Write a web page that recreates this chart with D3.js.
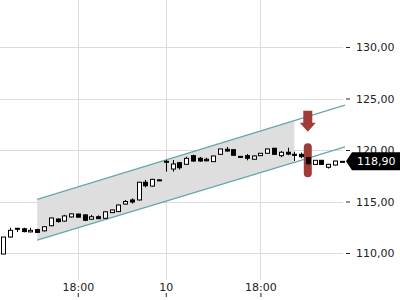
<!DOCTYPE html>
<html>
<head>
    <meta charset="utf-8">
    <title>Candles</title>
    <script src="https://d3js.org/d3.v7.min.js"></script>
    <style type="text/css">
        body { margin: 0; background: #fff; }
        text { font-family: "DejaVu Sans", sans-serif; font-size: 11px; fill: #222; }
    </style>
</head>
<body>
<script type="text/javascript">
// candle values, one entry per candle
const opens  = [109.9, 111.55, 112.4, 112.35, 112.05, 112.27, 112.15, 112.65, 113.3, 113.1,
                113.5, 113.78, 113.7, 113.28, 113.52, 113.37, 113.92, 114.02, 114.75, 115.15,
                115.15, 116.87, 116.5, 117.1, 118.85, 118.15, 118.77, 118.61, 119.45, 119.2,
                119.1, 118.87, 119.58, 120.07, 120.03, 119.38, 119.45, 119.1, 119.45, 119.68,
                120.17, 119.45, 119.78, 119.58, 119.58, 119.25, 118.6, 119.0, 118.32, 118.54, 118.9];
const highs  = [111.55, 112.45, 112.42, 112.45, 112.45, 112.35, 112.6, 113.45, 113.35, 113.7,
                113.85, 113.82, 113.75, 113.7, 113.65, 114.05, 114.2, 114.7, 115.15, 115.3,
                116.9, 117.1, 117.2, 117.12, 119.03, 119.03, 118.85, 119.35, 119.55, 119.32,
                119.25, 119.45, 120.12, 120.3, 120.05, 119.4, 119.6, 119.5, 119.7, 120.12,
                120.2, 119.9, 120.22, 119.83, 119.75, 119.3, 119.02, 119.02, 118.65, 118.95, 118.92];
const lows   = [109.9, 111.5, 112.05, 112.0, 112.0, 111.95, 112.1, 112.6, 112.95, 113.05,
                113.45, 113.45, 113.1, 113.25, 113.3, 113.3, 113.9, 114.0, 114.7, 114.8,
                115.1, 116.38, 116.45, 117.05, 117.9, 117.9, 118.1, 118.55, 118.85, 118.87,
                118.9, 118.85, 119.55, 119.84, 119.45, 119.25, 119.0, 119.08, 119.43, 119.65,
                119.55, 119.3, 119.5, 118.93, 119.2, 118.6, 118.58, 118.58, 118.2, 118.5, 118.88];
const closes = [111.55, 112.2, 112.36, 112.08, 112.2, 112.0, 112.55, 113.4, 113.05, 113.6,
                113.8, 113.48, 113.18, 113.52, 113.33, 114.0, 114.18, 114.66, 115.0, 114.95,
                116.87, 116.53, 117.15, 117.08, 118.9, 118.64, 118.28, 119.19, 118.93, 118.93,
                118.95, 119.42, 120.1, 119.9, 119.49, 119.29, 119.2, 119.42, 119.68, 120.1,
                119.58, 119.78, 119.6, 119.52, 119.35, 118.67, 119.0, 118.6, 118.61, 118.93, 118.9];

// time axis
const tickIdx    = [11, 24, 38];
const tickLabels = ["18:00", "10", "18:00"];

// price axis
const priceTicks = [110, 115, 120, 125, 130];
const lastPrice  = 118.90;

// trend channel (candle index, upper, lower)
const channelIdx   = [5, 43, 50.5];
const channelUpper = [115.2, 122.85, 124.35];
const channelLower = [111.25, 118.8, 120.3];

// signal marker on one candle
const signalIdx   = 45;
const arrowTop    = 123.8;
const arrowBottom = 121.78;
const pillTop     = 120.65;
const pillBottom  = 117.35;

const width = 400, height = 300, plotRight = 345;

const svg = d3.select("body").append("svg")
    .attr("width", width)
    .attr("height", height);

const x = d3.scaleLinear()
    .domain([-0.5, opens.length - 0.5])
    .range([0, plotRight]);
const y = d3.scaleLinear()
    .domain([110, 130])
    .range([253, 47]);

// grid
svg.append("g").selectAll("line")
    .data(priceTicks).join("line")
    .attr("x1", 0).attr("x2", plotRight - 2)
    .attr("y1", d => Math.round(y(d)) + 0.5).attr("y2", d => Math.round(y(d)) + 0.5)
    .style("stroke", "#dcdcdc");
svg.append("g").selectAll("line")
    .data(tickIdx).join("line")
    .attr("x1", d => Math.round(x(d)) + 0.5).attr("x2", d => Math.round(x(d)) + 0.5)
    .attr("y1", 0).attr("y2", 280)
    .style("stroke", "#dcdcdc");

// channel
const pts = (vals, n) => channelIdx.slice(0, n).map((c, k) => [x(c), y(vals[k])]);
const fillPts = pts(channelUpper, 2).concat(pts(channelLower, 2).reverse());
svg.append("path")
    .attr("d", d3.line()(fillPts) + "Z")
    .style("fill", "#dcdcdc")
    .style("fill-opacity", 0.95);
[channelUpper, channelLower].forEach(vals => {
    svg.append("path")
        .attr("d", d3.line()(pts(vals, 3)))
        .style("fill", "none")
        .style("stroke", "#67a6ad")
        .style("stroke-width", 1.2);
});

// signal marker
const sx = x(signalIdx);
const red = "#a03c37";
svg.append("path")
    .attr("d", d3.line()([
        [sx - 4.5, y(arrowTop)], [sx + 4.5, y(arrowTop)], [sx + 4.5, y(arrowBottom) - 9],
        [sx + 8, y(arrowBottom) - 9], [sx, y(arrowBottom)], [sx - 8, y(arrowBottom) - 9],
        [sx - 4.5, y(arrowBottom) - 9]]) + "Z")
    .style("fill", red);
svg.append("rect")
    .attr("x", sx - 4).attr("width", 8)
    .attr("y", y(pillTop)).attr("height", y(pillBottom) - y(pillTop))
    .attr("rx", 4)
    .style("fill", red);

// candles
const candles = svg.append("g").selectAll("g")
    .data(d3.range(opens.length)).join("g");
candles.append("line")
    .attr("x1", i => Math.round(x(i)) + 0.5).attr("x2", i => Math.round(x(i)) + 0.5)
    .attr("y1", i => y(highs[i])).attr("y2", i => y(lows[i]))
    .style("stroke", "#000");
candles.append("rect")
    .attr("x", i => Math.round(x(i)) - 1.5)
    .attr("width", 4)
    .attr("y", i => y(Math.max(opens[i], closes[i])))
    .attr("height", i => Math.max(1, Math.abs(y(opens[i]) - y(closes[i]))))
    .style("fill", i => closes[i] > opens[i] ? "#fff" : "#000")
    .style("stroke", "#000")
    .style("stroke-width", 1);

// price axis
const fmt = v => d3.format(".2f")(v).replace(".", ",");
const yAxis = svg.append("g")
    .attr("transform", `translate(${plotRight + 1},0)`)
    .call(d3.axisRight(y).tickValues(priceTicks).tickFormat(fmt).tickSize(4).tickPadding(6));
yAxis.select(".domain").remove();
yAxis.selectAll("line").style("stroke", "#222");
yAxis.selectAll("text").style("font-family", "DejaVu Sans").style("font-size", "11px").attr("fill", "#222");

// time axis (ticks sit under the labels)
const xAxis = svg.append("g")
    .attr("transform", "translate(0,297)")
    .call(d3.axisTop(x).tickValues(tickIdx).tickFormat((d, k) => tickLabels[k]).tickSize(4).tickPadding(2));
xAxis.select(".domain").remove();
xAxis.selectAll("line").style("stroke", "#222");
xAxis.selectAll("text").style("font-family", "DejaVu Sans").style("font-size", "11px").attr("fill", "#222");

// last price label
const ly = y(lastPrice);
svg.append("path")
    .attr("d", d3.line()([[plotRight + 1, ly], [352, ly - 9], [width, ly - 9], [width, ly + 9], [352, ly + 9]]) + "Z")
    .style("fill", "#000");
svg.append("text")
    .attr("x", 357).attr("y", ly + 4)
    .style("fill", "#fff")
    .text(fmt(lastPrice));
</script>
</body>
</html>
